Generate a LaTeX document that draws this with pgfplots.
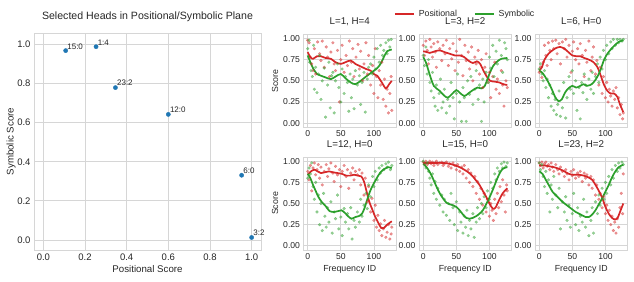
\documentclass[border=0pt]{standalone}
\usepackage{fontspec}
\setmainfont{Liberation Sans}
\usepackage{pgfplots}
\pgfplotsset{compat=1.18}
\definecolor{gridc}{HTML}{D6D6D6}
\definecolor{tickc}{HTML}{262626}
\definecolor{tabred}{HTML}{D62728}
\definecolor{tabgreen}{HTML}{2CA02C}
\definecolor{tabblue}{HTML}{1F77B4}
\pgfplotsset{
  base/.style={scale only axis, axis background/.style={fill=white},
    axis line style={draw=gridc, line width=1pt},
    grid=major, major grid style={draw=gridc, line width=0.8pt},
    major tick length=0pt, tick style={draw=none},
    /pgf/number format/assume math mode=true,
    tick label style={text=tickc},
    label style={text=tickc},
    clip=false},
  panel/.style={base, width=92.5pt, height=93pt,
    xmin=-6.35, xmax=133.35, ymin=-0.05, ymax=1.05,
    xtick={0,50,100}, ytick={0,0.25,0.5,0.75,1},
    yticklabel style={/pgf/number format/.cd, fixed, fixed zerofill, precision=2},
    tick label style={font=\fontsize{8.6}{10}\selectfont},
    title style={at={(0.5,1)}, anchor=base, yshift=3.6pt, font=\fontsize{9.8}{11}\selectfont, text=tickc},
    ylabel style={at={(axis description cs:0,0.5)}, anchor=center, yshift=28.5pt, font=\fontsize{8.8}{10}\selectfont},
    xlabel style={at={(axis description cs:0.5,0)}, anchor=center, yshift=-19pt, font=\fontsize{8.8}{10}\selectfont}},
  rdot/.style={only marks, color=tabred, mark=*, mark size=1.5pt, mark options={solid, draw=tabred, fill=tabred, opacity=0.5, line width=0.1pt}, forget plot},
  gdot/.style={only marks, color=tabgreen, mark=*, mark size=1.5pt, mark options={solid, draw=tabgreen, fill=tabgreen, opacity=0.5, line width=0.1pt}, forget plot},
  rline/.style={tabred, line width=1.7pt, no marks, smooth, tension=0.5},
  gline/.style={tabgreen, line width=1.7pt, no marks, smooth, tension=0.5}
}
\begin{document}
\begin{tikzpicture}
\useasboundingbox (0pt,0pt) rectangle (634pt,-281pt);
% ---------------- left scatter ----------------
\begin{axis}[base, at={(34pt,-250pt)}, anchor=south west,
  width=227pt, height=217pt,
  xmin=-0.045, xmax=1.045, ymin=-0.051, ymax=1.058,
  xtick={0,0.2,0.4,0.6,0.8,1.0}, ytick={0,0.2,0.4,0.6,0.8,1.0},
  xticklabel style={/pgf/number format/.cd, fixed, fixed zerofill, precision=1},
  yticklabel style={/pgf/number format/.cd, fixed, fixed zerofill, precision=1},
  tick label style={font=\fontsize{9.5}{11}\selectfont},
  title={Selected Heads in Positional/Symbolic Plane},
  title style={at={(0.5,1)}, anchor=base, yshift=7.5pt, font=\fontsize{10.6}{12}\selectfont, text=tickc},
  xlabel={Positional Score}, ylabel={Symbolic Score},
  xlabel style={at={(axis description cs:0.5,0)}, anchor=center, yshift=-19.3pt, font=\fontsize{9.7}{11}\selectfont},
  ylabel style={at={(axis description cs:0,0.5)}, anchor=center, yshift=23pt, font=\fontsize{9.7}{11}\selectfont}]
\addplot[only marks, mark=*, mark size=2.1pt, draw=tabblue, fill=tabblue,
  nodes near coords, point meta=explicit symbolic,
  nodes near coords style={anchor=base west, xshift=1.5pt, yshift=1.6pt, inner sep=0pt, font=\fontsize{8}{9}\selectfont, text=tickc}]
  table[meta=lab] {
x y lab
0.107 0.968 15:0
0.253 0.988 1:4
0.346 0.779 23:2
0.600 0.642 12:0
0.952 0.331 6:0
1.000 0.013 3:2
};
\end{axis}
% ---------------- L=1, H=4 ----------------
\begin{axis}[panel, at={(303.5pt,-127.3pt)}, anchor=south west, title={L=1, H=4}, ylabel={Score}]
\addplot[rdot] coordinates {(0,0.98)(2,0.95)(4,0.78)(6,0.70)(8,0.62)(10,0.88)(12,0.58)(15,0.96)(18,0.82)(20,0.74)(22,0.97)(25,0.66)(28,0.90)(30,0.78)(33,0.55)(35,0.84)(38,0.95)(40,0.70)(42,0.62)(45,0.86)(48,0.25)(50,0.75)(52,0.92)(55,0.60)(58,0.80)(60,0.68)(63,0.97)(66,0.72)(68,0.88)(70,0.55)(73,0.78)(76,0.93)(78,0.64)(80,0.85)(83,0.50)(85,0.70)(88,0.95)(90,0.58)(92,0.80)(95,0.45)(98,0.68)(100,0.35)(102,0.88)(104,0.55)(106,0.30)(108,0.62)(110,0.45)(112,0.72)(114,0.28)(116,0.52)(118,0.20)(120,0.40)(122,0.12)(124,0.35)(126,0.55)(127,0.15)};
\addplot[gdot] coordinates {(0,0.88)(2,0.98)(3,0.72)(5,0.62)(7,0.55)(9,0.92)(10,0.40)(12,0.66)(14,0.36)(16,0.58)(18,0.80)(20,0.28)(22,0.50)(25,0.65)(27,0.07)(30,0.45)(32,0.72)(34,0.18)(36,0.56)(38,0.60)(40,0.12)(42,0.50)(45,0.70)(47,0.42)(50,0.25)(52,0.64)(55,0.35)(57,0.55)(60,0.48)(62,0.14)(64,0.58)(66,0.30)(68,0.52)(70,0.17)(72,0.62)(75,0.45)(78,0.56)(80,0.22)(82,0.48)(85,0.60)(87,0.13)(90,0.52)(92,0.66)(95,0.70)(98,0.58)(100,0.78)(103,0.64)(105,0.88)(108,0.72)(110,0.92)(113,0.80)(115,0.86)(118,0.95)(120,0.82)(122,0.98)(124,0.90)(126,0.99)};
\addplot[rline] coordinates {(0,0.84)(4,0.78)(8,0.76)(14,0.79)(20,0.79)(27,0.77)(35,0.76)(42,0.72)(50,0.70)(57,0.72)(65,0.74)(72,0.70)(80,0.67)(88,0.64)(95,0.62)(100,0.58)(105,0.56)(112,0.48)(118,0.41)(123,0.46)(127,0.50)};
\addplot[gline] coordinates {(0,0.80)(4,0.72)(8,0.65)(14,0.58)(20,0.56)(27,0.54)(35,0.52)(42,0.55)(50,0.58)(57,0.53)(65,0.48)(72,0.46)(80,0.50)(88,0.55)(95,0.59)(100,0.62)(105,0.65)(110,0.70)(115,0.78)(120,0.85)(127,0.87)};
\end{axis}
% ---------------- L=3, H=2 ----------------
\begin{axis}[panel, at={(419pt,-127.3pt)}, anchor=south west, title={L=3, H=2},
  legend columns=2,
  legend style={at={(0.5,1)}, anchor=center, yshift=20.5pt, draw=none, fill=none,
    font=\fontsize{8.8}{10}\selectfont, text=tickc,
    /tikz/every odd column/.append style={column sep=2pt},
    /tikz/every even column/.append style={column sep=15pt}},
  legend image code/.code={\draw[#1, line width=1.7pt] (0pt,0pt) -- (19pt,0pt);}]
\addplot[rdot] coordinates {(0,0.92)(2,0.80)(4,0.97)(6,0.86)(8,0.70)(10,0.99)(12,0.90)(14,0.78)(16,0.94)(18,0.84)(20,0.66)(22,0.96)(25,0.88)(28,0.74)(30,0.92)(33,0.82)(35,0.98)(38,0.68)(40,0.88)(43,0.76)(45,0.94)(48,0.62)(50,0.85)(53,0.72)(55,0.99)(58,0.80)(60,0.56)(63,0.92)(65,0.74)(68,0.84)(70,0.64)(73,0.90)(75,0.50)(78,0.78)(80,0.70)(83,0.86)(85,0.58)(88,0.75)(90,0.42)(93,0.66)(95,0.82)(98,0.48)(100,0.60)(102,0.30)(105,0.55)(108,0.72)(110,0.40)(112,0.52)(115,0.35)(118,0.62)(120,0.45)(122,0.20)(125,0.50)(127,0.42)};
\addplot[gdot] coordinates {(0,0.80)(2,0.68)(4,0.90)(6,0.58)(8,0.75)(10,0.48)(12,0.38)(14,0.60)(16,0.30)(18,0.20)(20,0.45)(22,0.15)(24,0.35)(26,0.52)(28,0.18)(30,0.25)(32,0.40)(35,0.12)(37,0.28)(40,0.20)(42,0.48)(45,0.30)(47,0.05)(50,0.35)(52,0.58)(55,0.25)(58,0.02)(60,0.42)(62,0.30)(65,0.02)(67,0.50)(70,0.34)(72,0.55)(75,0.22)(78,0.40)(80,0.62)(83,0.28)(85,0.45)(88,0.02)(90,0.52)(92,0.25)(95,0.60)(98,0.48)(100,0.78)(102,0.65)(105,0.92)(107,0.55)(110,0.85)(112,0.70)(115,0.98)(118,0.80)(120,0.60)(123,0.95)(125,0.88)(127,0.75)};
\addplot[rline] coordinates {(0,0.85)(5,0.84)(10,0.83)(18,0.85)(25,0.86)(32,0.84)(40,0.82)(48,0.80)(55,0.80)(62,0.78)(68,0.74)(75,0.71)(81,0.73)(86,0.70)(91,0.62)(96,0.55)(101,0.50)(108,0.49)(115,0.48)(121,0.46)(127,0.45)};
\addlegendentry{Positional}
\addplot[gline] coordinates {(0,0.78)(4,0.72)(8,0.62)(12,0.52)(16,0.44)(20,0.41)(25,0.38)(31,0.33)(37,0.30)(43,0.34)(50,0.39)(55,0.36)(62,0.32)(68,0.35)(75,0.39)(82,0.42)(88,0.41)(93,0.44)(97,0.52)(101,0.60)(106,0.68)(112,0.73)(118,0.76)(127,0.77)};
\addlegendentry{Symbolic}
\end{axis}
% ---------------- L=6, H=0 ----------------
\begin{axis}[panel, at={(535pt,-127.3pt)}, anchor=south west, title={L=6, H=0}]
\addplot[rdot] coordinates {(0,0.60)(2,0.66)(4,0.54)(6,0.72)(8,0.92)(10,0.80)(12,0.68)(14,0.95)(16,0.86)(18,0.75)(20,0.97)(22,0.88)(25,0.98)(27,0.82)(30,0.94)(32,0.70)(35,0.96)(38,0.88)(40,0.99)(42,0.78)(45,0.92)(48,0.60)(50,0.85)(52,0.96)(55,0.75)(58,0.88)(60,0.70)(62,0.94)(65,0.80)(68,0.55)(70,0.86)(72,0.72)(75,0.97)(78,0.62)(80,0.78)(82,0.90)(85,0.58)(87,0.74)(90,0.45)(92,0.66)(95,0.35)(97,0.55)(100,0.30)(102,0.48)(104,0.25)(106,0.40)(108,0.32)(110,0.20)(112,0.38)(114,0.28)(116,0.42)(118,0.18)(120,0.30)(122,0.10)(124,0.22)(126,0.05)(127,0.12)};
\addplot[gdot] coordinates {(0,0.64)(2,0.70)(4,0.58)(6,0.50)(8,0.62)(10,0.42)(12,0.52)(14,0.30)(16,0.45)(18,0.20)(20,0.35)(22,0.15)(24,0.28)(26,0.10)(28,0.22)(30,0.38)(32,0.08)(35,0.18)(37,0.48)(40,0.06)(42,0.30)(45,0.55)(47,0.40)(50,0.62)(52,0.35)(55,0.50)(57,0.15)(60,0.42)(62,0.05)(64,0.48)(66,0.36)(68,0.58)(70,0.45)(72,0.28)(75,0.52)(78,0.40)(80,0.60)(82,0.35)(85,0.55)(88,0.70)(90,0.48)(92,0.78)(95,0.64)(97,0.86)(100,0.75)(102,0.92)(105,0.82)(108,0.96)(110,0.88)(112,0.99)(115,0.92)(118,0.99)(120,0.95)(122,0.99)(125,0.97)(127,0.99)};
\addplot[rline] coordinates {(0,0.62)(4,0.66)(8,0.75)(14,0.82)(20,0.86)(26,0.89)(32,0.90)(38,0.88)(44,0.84)(50,0.80)(56,0.79)(62,0.79)(68,0.77)(75,0.75)(82,0.72)(88,0.66)(93,0.56)(98,0.45)(103,0.38)(108,0.35)(113,0.35)(118,0.31)(122,0.22)(127,0.13)};
\addplot[gline] coordinates {(0,0.62)(4,0.60)(8,0.56)(14,0.48)(19,0.40)(24,0.31)(29,0.26)(34,0.28)(39,0.36)(44,0.41)(50,0.44)(56,0.42)(62,0.44)(67,0.46)(72,0.44)(77,0.45)(82,0.48)(88,0.55)(93,0.64)(98,0.75)(103,0.82)(108,0.87)(114,0.92)(120,0.96)(127,0.98)};
\end{axis}
% ---------------- L=12, H=0 ----------------
\begin{axis}[panel, at={(303.5pt,-250pt)}, anchor=south west, title={L=12, H=0}, ylabel={Score}, xlabel={Frequency ID}]
\addplot[rdot] coordinates {(0,0.88)(2,0.78)(4,0.95)(6,0.65)(8,0.92)(10,0.98)(12,0.84)(14,0.90)(16,0.96)(18,0.80)(20,0.93)(22,0.72)(25,0.88)(28,0.96)(30,0.82)(32,0.91)(35,0.98)(38,0.86)(40,0.76)(42,0.94)(45,0.84)(48,0.90)(50,0.70)(52,0.88)(55,0.95)(58,0.82)(60,0.90)(62,0.68)(65,0.86)(68,0.92)(70,0.78)(72,0.88)(75,0.84)(78,0.90)(80,0.72)(82,0.86)(85,0.60)(87,0.80)(90,0.52)(92,0.70)(95,0.40)(97,0.56)(100,0.30)(102,0.48)(104,0.22)(106,0.36)(108,0.18)(110,0.26)(112,0.12)(114,0.20)(116,0.30)(118,0.10)(120,0.16)(122,0.25)(124,0.08)(126,0.14)(127,0.22)};
\addplot[gdot] coordinates {(0,0.80)(2,0.92)(4,0.85)(6,0.98)(8,0.70)(10,0.55)(12,0.75)(14,0.40)(16,0.60)(18,0.25)(20,0.50)(22,0.18)(24,0.62)(26,0.35)(28,0.22)(30,0.45)(32,0.28)(35,0.52)(37,0.15)(40,0.40)(42,0.32)(45,0.60)(47,0.20)(50,0.34)(52,0.12)(55,0.44)(57,0.28)(60,0.38)(62,0.20)(65,0.45)(67,0.08)(70,0.30)(72,0.22)(75,0.40)(78,0.28)(80,0.55)(82,0.35)(85,0.48)(88,0.62)(90,0.44)(92,0.72)(95,0.58)(98,0.82)(100,0.70)(102,0.88)(105,0.78)(108,0.92)(110,0.86)(112,0.95)(115,0.90)(118,0.97)(120,0.93)(122,0.99)(125,0.90)(127,0.95)};
\addplot[rline] coordinates {(0,0.84)(5,0.88)(10,0.90)(15,0.88)(20,0.86)(26,0.87)(32,0.88)(38,0.87)(45,0.86)(52,0.85)(58,0.83)(64,0.83)(70,0.84)(76,0.83)(81,0.82)(85,0.76)(89,0.64)(93,0.52)(97,0.44)(101,0.36)(106,0.28)(111,0.21)(115,0.21)(120,0.25)(127,0.29)};
\addplot[gline] coordinates {(0,0.85)(4,0.80)(8,0.72)(12,0.65)(16,0.58)(21,0.52)(27,0.47)(33,0.41)(40,0.40)(46,0.41)(51,0.42)(56,0.39)(61,0.35)(66,0.32)(72,0.34)(77,0.35)(82,0.38)(86,0.45)(90,0.55)(95,0.66)(100,0.74)(105,0.81)(110,0.87)(116,0.91)(121,0.93)(127,0.92)};
\end{axis}
% ---------------- L=15, H=0 ----------------
\begin{axis}[panel, at={(419pt,-250pt)}, anchor=south west, title={L=15, H=0}, xlabel={Frequency ID}]
\addplot[rdot] coordinates {(0,0.99)(2,0.97)(4,1.00)(6,0.96)(8,0.98)(10,1.00)(12,0.97)(14,0.99)(16,0.95)(18,0.98)(20,1.00)(22,0.96)(25,0.98)(28,0.99)(30,0.95)(32,0.97)(35,0.99)(38,0.94)(40,0.97)(42,0.92)(45,0.98)(48,0.95)(50,0.90)(52,0.96)(55,0.88)(58,0.93)(60,0.85)(62,0.95)(65,0.80)(68,0.90)(70,0.75)(72,0.86)(75,0.70)(78,0.82)(80,0.62)(82,0.76)(85,0.55)(87,0.68)(90,0.48)(92,0.62)(95,0.40)(97,0.55)(100,0.35)(102,0.50)(104,0.42)(106,0.30)(108,0.55)(110,0.38)(112,0.62)(114,0.45)(116,0.70)(118,0.52)(120,0.78)(122,0.60)(124,0.40)(126,0.72)(127,0.65)};
\addplot[gdot] coordinates {(0,1.00)(2,0.96)(4,0.92)(6,0.98)(8,0.88)(10,0.80)(12,0.72)(14,0.85)(16,0.62)(18,0.76)(20,0.55)(22,0.68)(25,0.48)(28,0.60)(30,0.40)(32,0.55)(35,0.36)(38,0.50)(40,0.30)(42,0.62)(45,0.45)(47,0.25)(50,0.52)(52,0.18)(55,0.40)(57,0.28)(60,0.15)(62,0.35)(64,0.22)(66,0.42)(68,0.12)(70,0.30)(72,0.20)(75,0.38)(77,0.10)(80,0.28)(82,0.45)(85,0.32)(88,0.50)(90,0.38)(92,0.58)(95,0.45)(97,0.65)(100,0.55)(102,0.75)(105,0.68)(108,0.85)(110,0.78)(112,0.92)(115,0.88)(118,0.97)(120,0.92)(122,0.99)(125,0.94)(127,0.98)};
\addplot[rline] coordinates {(0,0.98)(10,0.98)(20,0.98)(30,0.98)(40,0.97)(48,0.95)(55,0.93)(62,0.90)(68,0.87)(75,0.82)(80,0.77)(85,0.72)(90,0.65)(95,0.58)(100,0.50)(105,0.44)(109,0.45)(114,0.53)(120,0.62)(127,0.68)};
\addplot[gline] coordinates {(0,0.97)(5,0.93)(10,0.87)(15,0.79)(20,0.70)(25,0.62)(30,0.56)(35,0.51)(40,0.49)(45,0.48)(50,0.46)(55,0.42)(60,0.37)(65,0.33)(70,0.32)(75,0.33)(80,0.35)(85,0.38)(90,0.42)(95,0.49)(100,0.57)(105,0.66)(110,0.76)(115,0.85)(120,0.91)(127,0.93)};
\end{axis}
% ---------------- L=23, H=2 ----------------
\begin{axis}[panel, at={(535pt,-250pt)}, anchor=south west, title={L=23, H=2}, xlabel={Frequency ID}]
\addplot[rdot] coordinates {(0,0.98)(2,0.95)(4,0.99)(6,0.92)(8,0.97)(10,0.99)(12,0.94)(14,0.96)(16,0.90)(18,0.98)(20,0.93)(22,0.88)(25,0.96)(28,0.90)(30,0.85)(32,0.93)(35,0.88)(38,0.82)(40,0.90)(42,0.85)(45,0.78)(48,0.88)(50,0.83)(52,0.90)(55,0.80)(58,0.86)(60,0.82)(62,0.88)(65,0.76)(68,0.86)(70,0.80)(72,0.84)(75,0.72)(78,0.82)(80,0.68)(82,0.78)(85,0.60)(87,0.72)(90,0.55)(92,0.62)(95,0.45)(97,0.58)(100,0.38)(102,0.48)(104,0.30)(106,0.42)(108,0.25)(110,0.35)(112,0.18)(114,0.28)(116,0.15)(118,0.32)(120,0.22)(122,0.45)(124,0.62)(126,0.38)(127,0.85)};
\addplot[gdot] coordinates {(0,0.98)(2,0.90)(4,0.96)(6,0.82)(8,0.70)(10,0.88)(12,0.62)(14,0.78)(16,0.40)(18,0.72)(20,0.55)(22,0.82)(25,0.60)(28,0.45)(30,0.68)(32,0.20)(35,0.52)(38,0.40)(40,0.58)(42,0.30)(45,0.48)(47,0.22)(50,0.38)(52,0.62)(55,0.25)(58,0.45)(60,0.18)(62,0.35)(65,0.28)(67,0.55)(70,0.22)(72,0.40)(75,0.12)(78,0.30)(80,0.45)(82,0.15)(85,0.52)(88,0.38)(90,0.60)(92,0.48)(95,0.68)(98,0.55)(100,0.75)(102,0.62)(105,0.82)(108,0.72)(110,0.90)(112,0.80)(115,0.95)(118,0.88)(120,0.98)(122,0.92)(125,0.99)(127,0.96)};
\addplot[rline] coordinates {(0,0.95)(8,0.95)(15,0.94)(22,0.93)(30,0.91)(38,0.88)(45,0.85)(52,0.84)(60,0.84)(67,0.83)(74,0.81)(80,0.78)(85,0.72)(90,0.65)(95,0.57)(100,0.46)(105,0.38)(110,0.33)(115,0.31)(119,0.34)(123,0.42)(127,0.50)};
\addplot[gline] coordinates {(0,0.88)(5,0.85)(10,0.78)(15,0.71)(20,0.64)(25,0.60)(30,0.56)(35,0.52)(40,0.49)(45,0.46)(50,0.43)(55,0.40)(60,0.38)(65,0.36)(70,0.34)(75,0.34)(80,0.37)(85,0.42)(90,0.49)(95,0.56)(100,0.64)(105,0.72)(110,0.81)(115,0.88)(120,0.93)(127,0.96)};
\end{axis}
\end{tikzpicture}
\end{document}
